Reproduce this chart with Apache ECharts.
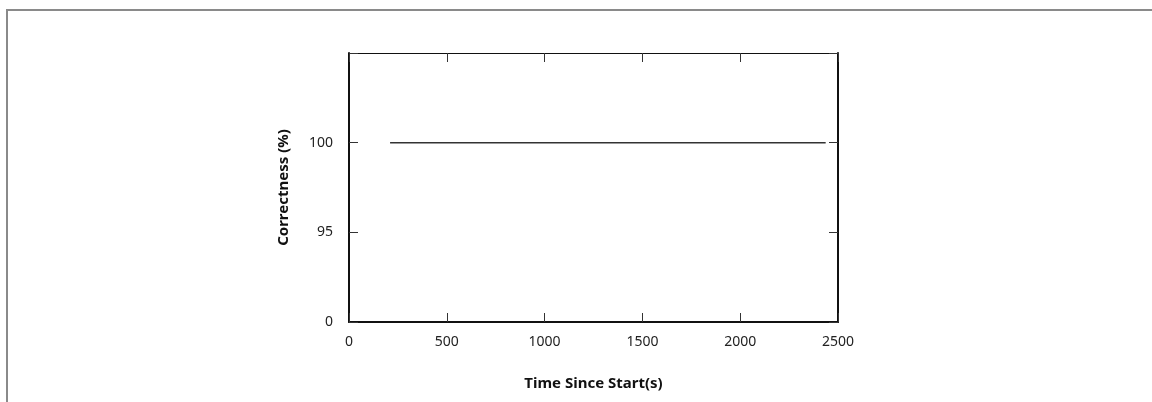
<!DOCTYPE html>
<html>
<head>
<meta charset="utf-8">
<script src="https://cdn.jsdelivr.net/npm/echarts@6/dist/echarts.min.js"></script>
<style>
html,body{margin:0;padding:0;background:#fff;}
#chart{width:1152px;height:402px;}
</style>
</head>
<body>
<div id="chart"></div>
<script>
// Data
const yCategories = ['0', '95', '100', ''];
const timeSeconds = [210, 2437];
const correctness = ['100', '100'];
const xTicks = [0, 500, 1000, 1500, 2000, 2500];

const chart = echarts.init(document.getElementById('chart'), null, {renderer: 'canvas'});
const fontFamily = '"Noto Sans", "Open Sans", sans-serif';
const textColor = '#222';
const tickStyle = {color: '#333', width: 1};

const option = {
  backgroundColor: '#fff',
  animation: false,
  grid: {left: 349, right: 314, top: 53, bottom: 80, containLabel: false},
  graphic: [{
    type: 'polyline',
    shape: {points: [[7, 402], [7, 10], [1152, 10]]},
    style: {stroke: '#8a8a8a', lineWidth: 2, fill: null}
  }],
  xAxis: [{
    type: 'value',
    min: xTicks[0], max: xTicks[xTicks.length - 1], interval: 500,
    position: 'bottom',
    name: 'Time Since Start(s)',
    nameLocation: 'middle',
    nameGap: 54,
    nameTextStyle: {fontFamily: fontFamily, fontSize: 15, fontWeight: 'bold', color: '#111'},
    axisLine: {show: true, onZero: false, lineStyle: {color: '#111', width: 2}},
    axisTick: {show: true, inside: true, length: 9, lineStyle: tickStyle},
    axisLabel: {fontFamily: fontFamily, fontSize: 14, color: textColor, margin: 13, formatter: v => String(v)},
    splitLine: {show: false}
  }, {
    type: 'value',
    min: xTicks[0], max: xTicks[xTicks.length - 1], interval: 500,
    position: 'top',
    axisLine: {show: true, onZero: false, lineStyle: {color: '#111', width: 1.2}},
    axisTick: {show: true, inside: true, length: 9, lineStyle: tickStyle},
    axisLabel: {show: false},
    splitLine: {show: false}
  }],
  yAxis: [{
    type: 'category',
    data: yCategories,
    boundaryGap: false,
    position: 'left',
    name: 'Correctness (%)',
    nameLocation: 'middle',
    nameGap: 58,
    nameRotate: 90,
    nameTextStyle: {fontFamily: fontFamily, fontSize: 15, fontWeight: 'bold', color: '#111'},
    axisLine: {show: true, onZero: false, lineStyle: {color: '#111', width: 2}},
    axisTick: {show: true, inside: true, length: 9, lineStyle: tickStyle},
    axisLabel: {fontFamily: fontFamily, fontSize: 14, color: textColor, margin: 16},
    splitLine: {show: false}
  }, {
    type: 'category',
    data: yCategories,
    boundaryGap: false,
    position: 'right',
    axisLine: {show: true, onZero: false, lineStyle: {color: '#111', width: 2}},
    axisTick: {show: true, inside: true, length: 9, lineStyle: tickStyle},
    axisLabel: {show: false},
    splitLine: {show: false}
  }],
  series: [{
    type: 'line',
    xAxisIndex: 0,
    yAxisIndex: 0,
    data: timeSeconds.map((t, i) => [t, correctness[i]]),
    symbol: 'none',
    lineStyle: {color: '#333', width: 1.5}
  }]
};
chart.setOption(option);
</script>
</body>
</html>
